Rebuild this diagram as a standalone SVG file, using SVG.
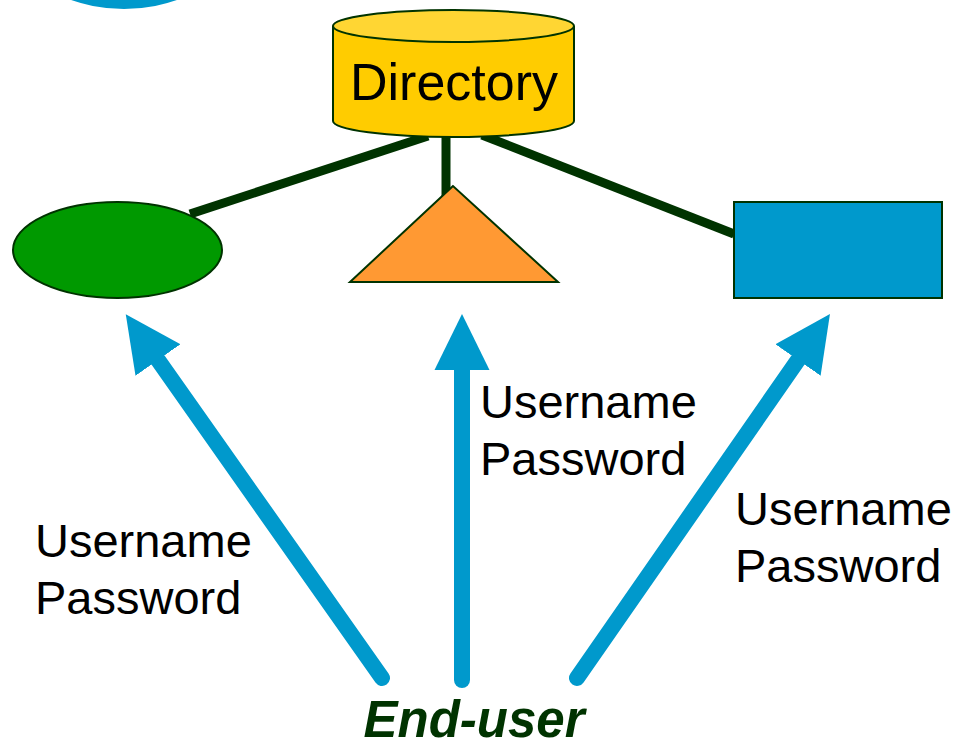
<svg xmlns="http://www.w3.org/2000/svg" width="958" height="743" viewBox="0 0 958 743">
  <style>
    .link { stroke: #003300; stroke-width: 9; fill: none; }
    .shape { stroke: #003300; stroke-width: 2; }
    .flow { stroke: #0099cc; stroke-width: 16; stroke-linecap: round; fill: none; }
    .label { font-family: "Liberation Sans", Arial, sans-serif; font-size: 47px; fill: #000; }
    .title { font-family: "Liberation Sans", Arial, sans-serif; font-size: 52px; fill: #000; }
    .user { font-family: "Liberation Sans", Arial, sans-serif; font-size: 51px; font-weight: bold; font-style: italic; fill: #003300; }
  </style>
  <defs>
    <marker id="head" viewBox="0 -28 57 56" refX="0" refY="0" markerUnits="userSpaceOnUse" markerWidth="57" markerHeight="56" orient="auto">
      <path d="M0,-27.5 L56,0 L0,27.5 Z" fill="#0099cc"/>
    </marker>
  </defs>

  <rect width="958" height="743" fill="#ffffff"/>

  <!-- partial blue disc at the top edge -->
  <circle id="corner-disc" cx="124" cy="-151" r="160" fill="#0099cc"/>

  <!-- links from the directory to each system -->
  <g id="links">
    <line class="link" x1="428" y1="136" x2="190" y2="214"/>
    <line class="link" x1="446" y1="136" x2="446" y2="200"/>
    <line class="link" x1="482" y1="135" x2="734" y2="234"/>
  </g>

  <g id="directory">
    <path class="shape" fill="#ffcc00" d="M333,26 L333,121 A120.5,16 0 0 0 574,121 L574,26"/>
    <ellipse class="shape" cx="453.5" cy="26" rx="120.5" ry="16" fill="#ffd633"/>
    <text class="title" x="454" y="100" text-anchor="middle">Directory</text>
  </g>

  <g id="system-ellipse">
    <ellipse class="shape" cx="117.5" cy="250" rx="104.5" ry="48" fill="#009900"/>
  </g>

  <g id="system-triangle">
    <polygon class="shape" points="453,186 350,282 558,282" fill="#ff9933"/>
  </g>

  <g id="system-rect">
    <rect class="shape" x="734" y="202" width="208" height="96" fill="#0099cc"/>
  </g>

  <!-- login arrows from the end-user -->
  <g id="logins">
    <line class="flow" x1="382" y1="678" x2="158" y2="360" marker-end="url(#head)"/>
    <line class="flow" x1="462" y1="680" x2="462" y2="370" marker-end="url(#head)"/>
    <line class="flow" x1="577" y1="678" x2="798" y2="360" marker-end="url(#head)"/>
  </g>

  <g id="credentials-left">
    <text class="label" x="35" y="557">Username</text>
    <text class="label" x="35" y="614">Password</text>
  </g>
  <g id="credentials-middle">
    <text class="label" x="480" y="418">Username</text>
    <text class="label" x="480" y="475">Password</text>
  </g>
  <g id="credentials-right">
    <text class="label" x="735" y="525">Username</text>
    <text class="label" x="735" y="582">Password</text>
  </g>

  <g id="end-user">
    <text class="user" x="474" y="737" text-anchor="middle">End-user</text>
  </g>
</svg>
